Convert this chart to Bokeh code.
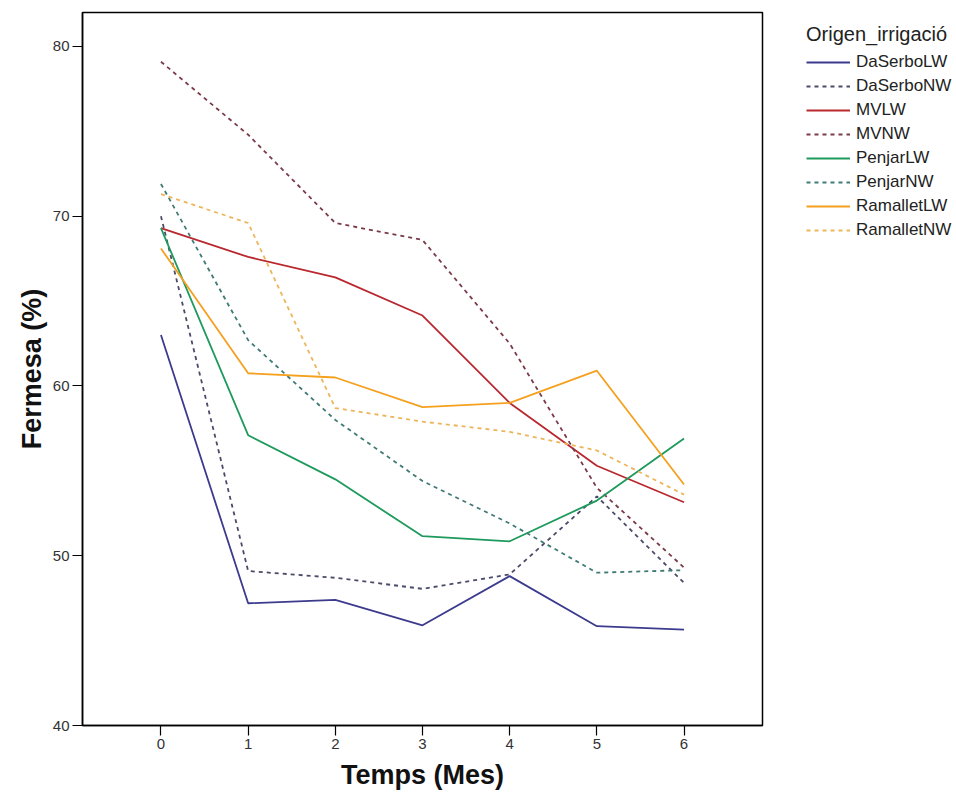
from bokeh.plotting import figure
from bokeh.models import Legend, LegendItem, FixedTicker, Range1d
from bokeh.layouts import row
from bokeh.embed import file_html
from bokeh.resources import INLINE

months = [0, 1, 2, 3, 4, 5, 6]

daserbo_lw = [63.0, 47.2, 47.4, 45.9, 48.8, 45.85, 45.65]
daserbo_nw = [70.0, 49.1, 48.7, 48.05, 48.9, 53.5, 48.4]
mv_lw = [69.3, 67.6, 66.4, 64.15, 59.0, 55.3, 53.15]
mv_nw = [79.1, 74.8, 69.6, 68.6, 62.5, 54.0, 49.3]
penjar_lw = [69.3, 57.1, 54.5, 51.15, 50.85, 53.25, 56.9]
penjar_nw = [71.9, 62.7, 58.0, 54.4, 51.9, 49.0, 49.15]
ramallet_lw = [68.1, 60.75, 60.5, 58.75, 59.0, 60.9, 54.2]
ramallet_nw = [71.3, 69.6, 58.7, 57.9, 57.3, 56.2, 53.6]

series_names = ["DaSerboLW", "DaSerboNW", "MVLW", "MVNW",
                "PenjarLW", "PenjarNW", "RamalletLW", "RamalletNW"]
series_values = [daserbo_lw, daserbo_nw, mv_lw, mv_nw,
                 penjar_lw, penjar_nw, ramallet_lw, ramallet_nw]
series_colors = ["#3d3b8e", "#4a4a6a", "#b8282e", "#7a3a48",
                 "#1e9a5c", "#3f7a74", "#f5a01e", "#ecb55a"]
series_dash = ["solid", "4 4", "solid", "4 4", "solid", "4 4", "solid", "4 4"]

y_ticks = [40, 50, 60, 70, 80]

FONT = "Liberation Sans"

p = figure(width=790, height=801, output_backend="svg", toolbar_location=None,
           x_range=Range1d(-0.9, 6.9), y_range=Range1d(40, 82.0),
           min_border_left=82, min_border_right=28, min_border_top=12,
           min_border_bottom=76)

p.xgrid.visible = False
p.ygrid.visible = False
p.outline_line_color = "black"
p.outline_line_width = 1.5
p.background_fill_color = "white"
p.border_fill_color = "white"

for ax in (p.xaxis[0], p.yaxis[0]):
    ax.axis_line_color = "black"
    ax.axis_line_width = 1.5
    ax.major_tick_line_color = "black"
    ax.major_tick_line_width = 1.2
    ax.major_tick_out = 10
    ax.major_tick_in = 0
    ax.minor_tick_out = 0
    ax.minor_tick_in = 0
    ax.major_label_text_font = FONT
    ax.major_label_text_font_size = "15px"
    ax.major_label_text_color = "#333333"
    ax.major_label_standoff = 3
    ax.axis_label_text_font = FONT
    ax.axis_label_text_font_style = "bold"
    ax.axis_label_text_font_size = "27px"
    ax.axis_label_text_color = "#111111"

p.xaxis.axis_label_standoff = 8
p.yaxis.axis_label_standoff = 3
p.xaxis.ticker = FixedTicker(ticks=months)
p.yaxis.ticker = FixedTicker(ticks=y_ticks)
p.xaxis.axis_label = "Temps (Mes)"
p.yaxis.axis_label = "Fermesa (%)"

for vals, col, dash in zip(series_values, series_colors, series_dash):
    p.line(months, vals, line_color=col, line_width=1.8, line_dash=dash)

# legend panel: same series drawn outside its visible range, used only for the key
q = figure(width=166, height=801, output_backend="svg", toolbar_location=None,
           x_range=Range1d(100, 101), y_range=Range1d(0, 1),
           x_axis_location=None, y_axis_location=None,
           min_border_left=0, min_border_right=0, min_border_top=0,
           min_border_bottom=0)
q.xgrid.visible = False
q.ygrid.visible = False
q.outline_line_color = None
q.background_fill_color = "white"
q.border_fill_color = "white"

items = []
for name, vals, col, dash in zip(series_names, series_values, series_colors, series_dash):
    r = q.line(months, vals, line_color=col, line_width=1.8, line_dash=dash)
    items.append(LegendItem(label=name, renderers=[r]))

legend = Legend(items=items, location=(16, 483), title="Origen_irrigació",
                title_text_font=FONT, title_text_font_size="20px",
                title_text_font_style="normal", title_text_color="#222222",
                title_standoff=4,
                label_text_font=FONT, label_text_font_size="17px",
                label_text_color="#222222",
                glyph_width=44, glyph_height=24, label_height=24,
                label_standoff=6, spacing=0, padding=0, margin=0,
                border_line_alpha=0, background_fill_alpha=0)
q.add_layout(legend)

layout = row(p, q)
open("out.html", "w").write(file_html(layout, INLINE))
